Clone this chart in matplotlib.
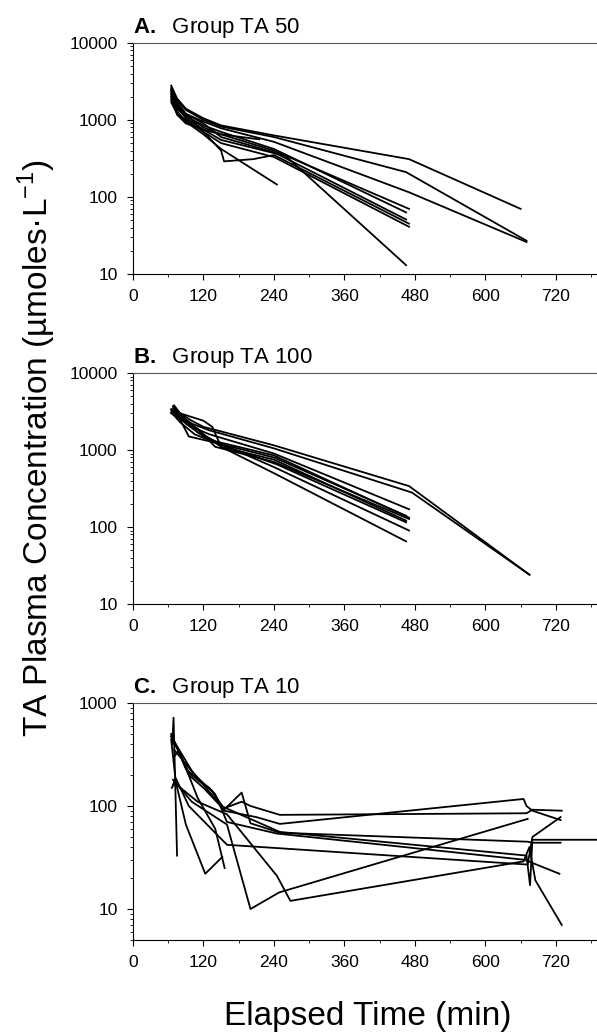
import numpy as np
import matplotlib
matplotlib.use("Agg")
import matplotlib.pyplot as plt
from matplotlib.ticker import FixedLocator, NullFormatter, LogLocator

plt.rcParams['font.family'] = ['Liberation Sans', 'DejaVu Sans']
plt.rcParams['mathtext.fontset'] = 'custom'
plt.rcParams['mathtext.rm'] = 'Liberation Sans'
plt.rcParams['mathtext.bf'] = 'Liberation Sans:bold'

# ---- data: elapsed time (min) and TA plasma concentration per animal ----
# Group TA 50
ta50_t = [
    [65, 75, 90, 120, 150, 240, 470, 660],
    [65, 75, 90, 120, 150, 240, 465, 670],
    [65, 75, 90, 120, 150, 240, 470, 670],
    [65, 75, 90, 120, 150, 240, 470],
    [65, 75, 90, 120, 150, 240, 465],
    [65, 75, 90, 120, 150, 240, 465],
    [65, 75, 90, 120, 150, 240, 470],
    [65, 75, 90, 120, 150, 260, 465],
    [65, 75, 90, 120, 150, 245],
    [65, 75, 100, 120, 150, 155, 205, 240, 470],
    [65, 75, 90, 120, 150, 215],
]
ta50_c = [
    [2800, 1900, 1400, 1050, 850, 630, 310, 70],
    [2500, 1800, 1350, 1000, 820, 600, 210, 27],
    [2000, 1500, 1200, 950, 780, 520, 115, 26],
    [2200, 1600, 1150, 800, 650, 400, 70],
    [1800, 1400, 1100, 850, 700, 420, 63],
    [2600, 1700, 1200, 900, 600, 380, 51],
    [1700, 1200, 1000, 700, 500, 330, 41],
    [2400, 1500, 1050, 750, 550, 340, 13],
    [1900, 1300, 950, 650, 420, 145],
    [2300, 1600, 1000, 700, 400, 290, 310, 350, 45],
    [2100, 1170, 900, 750, 650, 560],
]

# Group TA 100
ta100_t = [
    [68, 80, 100, 120, 240, 470, 675],
    [68, 80, 100, 130, 240, 475, 675],
    [65, 80, 100, 130, 240, 470],
    [70, 80, 95, 130, 240, 465],
    [65, 85, 110, 140, 240, 470],
    [70, 80, 120, 135, 150, 240, 465],
    [65, 90, 120, 150, 240, 470],
    [70, 90, 120, 150, 240, 465],
    [68, 85, 110, 140, 240, 470],
    [65, 80, 105, 140, 245, 465],
]
ta100_c = [
    [3700, 3000, 2400, 2000, 1150, 340, 24],
    [3500, 2800, 2200, 1800, 1050, 280, 24],
    [3300, 2600, 2000, 1600, 900, 170],
    [3600, 2500, 1500, 1300, 800, 140],
    [3000, 2400, 1900, 1100, 700, 127],
    [3800, 3000, 2400, 2000, 1100, 750, 121],
    [3400, 2200, 1500, 1200, 600, 90],
    [3500, 2500, 1600, 1100, 500, 65],
    [3200, 2600, 1700, 1300, 850, 132],
    [3100, 2300, 1600, 1250, 650, 115],
]

# Group TA 10
ta10_t = [
    [67, 69, 75],
    [65, 70, 90, 110, 130, 155, 185, 200, 250, 670, 680, 730],
    [66, 72, 95, 115, 135, 155, 210, 250, 665, 670, 680, 728],
    [65, 70, 95, 120, 155, 185, 200, 250, 672, 680, 728],
    [68, 72, 90, 123, 152],
    [70, 78, 110, 140, 156],
    [66, 72, 100, 160, 200, 249, 672],
    [68, 75, 110, 160, 245, 268, 665, 675, 685, 730],
    [65, 72, 95, 160, 672, 680, 728],
    [70, 80, 105, 140, 160, 245, 668, 680, 726],
    [65, 75, 100, 150, 250, 670, 676, 680, 800],
]
ta10_c = [
    [400, 720, 33],
    [480, 430, 230, 180, 150, 95, 110, 100, 82, 85, 92, 90],
    [450, 400, 210, 170, 140, 90, 78, 67, 117, 100, 90, 73],
    [500, 420, 200, 150, 92, 135, 68, 55, 45, 44, 44],
    [160, 180, 66, 22, 32],
    [300, 350, 120, 60, 25],
    [150, 170, 110, 66, 10, 14.5, 75],
    [180, 160, 110, 83, 21, 12, 29, 40, 19, 7],
    [440, 190, 100, 42, 27, 50, 78],
    [350, 300, 200, 130, 70, 54, 30, 28, 22],
    [470, 380, 220, 100, 56, 33, 17, 47, 47],
]

panels = [
    ("A.", "Group TA 50", ta50_t, ta50_c, [10, 100, 1000, 10000], (10, 10000)),
    ("B.", "Group TA 100", ta100_t, ta100_c, [10, 100, 1000, 10000], (10, 10000)),
    ("C.", "Group TA 10", ta10_t, ta10_c, [10, 100, 1000], (5, 1000)),
]
x_ticks = [0, 120, 240, 360, 480, 600, 720]

fig = plt.figure(figsize=(5.97, 10.33), dpi=100)
rects = [
    [0.2228, 0.7348, 0.7772, 0.2236],
    [0.2228, 0.4153, 0.7772, 0.2236],
    [0.2228, 0.0900, 0.7772, 0.2295],
]

for rect, (lab, name, ts, cs, yt, ylim) in zip(rects, panels):
    ax = fig.add_axes(rect)
    for t, c in zip(ts, cs):
        ax.plot(t, c, color='black', lw=1.3)
    ax.set_yscale('log')
    ax.set_ylim(*ylim)
    ax.set_xlim(0, 790)
    ax.set_yticks(yt)
    ax.set_yticklabels([str(v) for v in yt])
    ax.yaxis.set_minor_locator(LogLocator(base=10, subs=np.arange(2, 10)))
    ax.yaxis.set_minor_formatter(NullFormatter())
    ax.set_xticks(x_ticks)
    ax.set_xticklabels([str(v) for v in x_ticks])
    ax.xaxis.set_minor_locator(FixedLocator(np.arange(60, 790, 120)))
    ax.tick_params(which='major', direction='out', length=4, width=0.8,
                   labelsize=12.5, pad=7)
    ax.tick_params(which='minor', direction='out', length=2, width=0.6)
    ax.spines['right'].set_visible(False)
    for s in ['left', 'bottom', 'top']:
        ax.spines[s].set_linewidth(0.8)
    ax.spines['top'].set_color('#555555')
    ax.annotate(r"$\mathbf{" + lab + r"}$  " + name,
                xy=(0, 1), xycoords='axes fraction', xytext=(0, 7),
                textcoords='offset points', ha='left', va='baseline',
                fontsize=16)

fig.text(0.062, 0.566, r"TA Plasma Concentration (µmoles·L$^{-1}$)",
         rotation=90, ha='center', va='center', fontsize=24)
fig.text(0.616, 0.0155, "Elapsed Time (min)", ha='center', va='center',
         fontsize=24)

fig.savefig("out.png", dpi=100)
